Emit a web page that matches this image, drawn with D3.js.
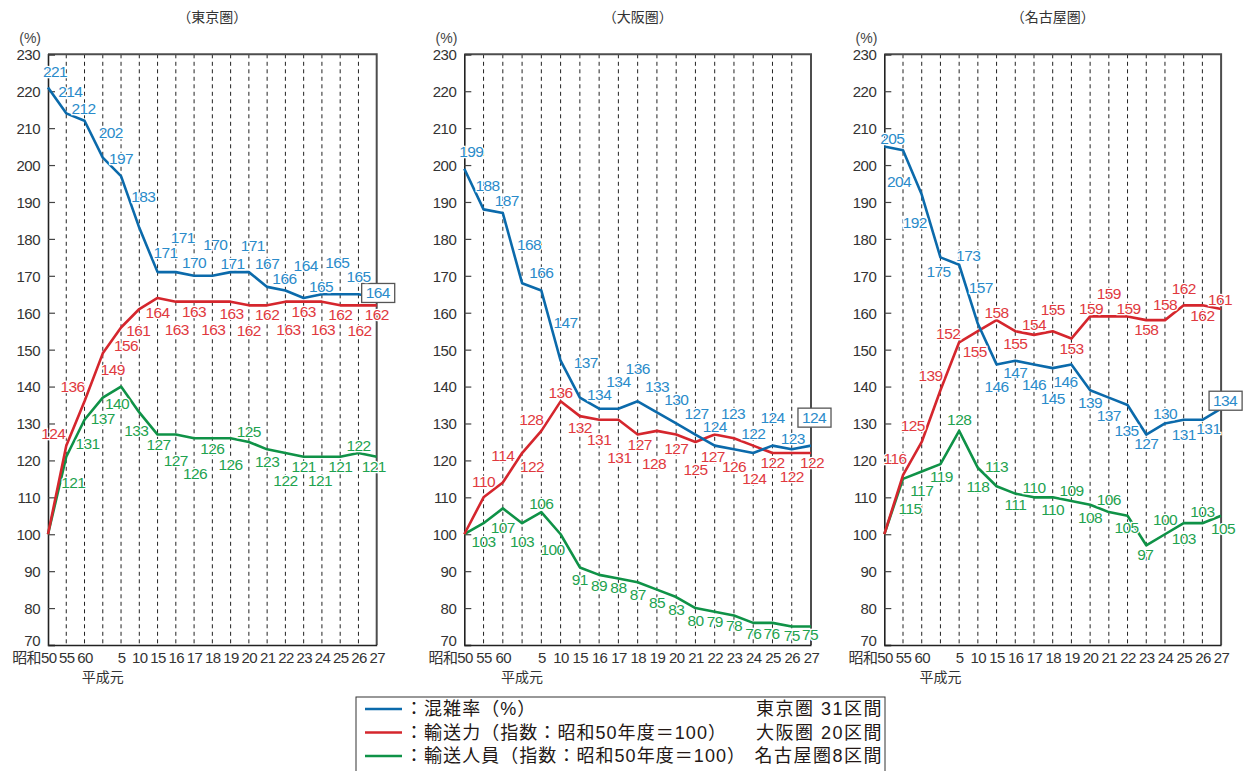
<!DOCTYPE html>
<html>
<head>
<meta charset="utf-8">
<script src="https://cdn.jsdelivr.net/npm/d3@7"></script>
<style>
body { margin: 0; background: #fff; }
svg text { font-family: "Liberation Sans", "Noto Sans CJK JP", sans-serif; }
</style>
</head>
<body>
<script>
// x categories (昭和50 … 平成27)
const years = ["昭和50", "55", "60", "平成元", "5", "10", "15", "16", "17", "18",
               "19", "20", "21", "22", "23", "24", "25", "26", "27"];
const yTicks = [70, 80, 90, 100, 110, 120, 130, 140, 150, 160, 170, 180, 190, 200, 210, 220, 230];

// 東京圏
const tokyoCongestion = [221, 214, 212, 202, 197, 183, 171, 171, 170, 170, 171, 171, 167, 166, 164, 165, 165, 165, 164];
const tokyoCapacity   = [100, 124, 136, 149, 156, 161, 164, 163, 163, 163, 163, 162, 162, 163, 163, 163, 162, 162, 162];
const tokyoPassengers = [100, 121, 131, 137, 140, 133, 127, 127, 126, 126, 126, 125, 123, 122, 121, 121, 121, 122, 121];

// 大阪圏
const osakaCongestion = [199, 188, 187, 168, 166, 147, 137, 134, 134, 136, 133, 130, 127, 124, 123, 122, 124, 123, 124];
const osakaCapacity   = [100, 110, 114, 122, 128, 136, 132, 131, 131, 127, 128, 127, 125, 127, 126, 124, 122, 122, 122];
const osakaPassengers = [100, 103, 107, 103, 106, 100, 91, 89, 88, 87, 85, 83, 80, 79, 78, 76, 76, 75, 75];

// 名古屋圏
const nagoyaCongestion = [205, 204, 192, 175, 173, 157, 146, 147, 146, 145, 146, 139, 137, 135, 127, 130, 131, 131, 134];
const nagoyaCapacity   = [100, 116, 125, 139, 152, 155, 158, 155, 154, 155, 153, 159, 159, 159, 158, 158, 162, 162, 161];
const nagoyaPassengers = [100, 115, 117, 119, 128, 118, 113, 111, 110, 110, 109, 108, 106, 105, 97, 100, 103, 103, 105];

// label placement relative to each point (px), null = no label
const tokyoCongestionOff = [[7,-16],[4,-22],[-1,-12],[8,-25],[0,-18],[4,-31],[8,-20],[7,-35],[0,-13],[3,-31],[2,-9],[4,-27],[0,-23],[-1,-12],[2,-32],[-1,-8],[-3,-32],[0,-18],[1,-5]];
const tokyoCapacityOff = [null,[-13,-12],[-12,-15],[10,16],[5,18],[-1,21],[0,15],[1,28],[0,10],[1,28],[1,12],[0,25],[0,9],[3,28],[0,10],[1,28],[0,9],[1,25],[0,9]];
const tokyoPassengersOff = [null,[7,26],[3,24],[0,21],[-4,17],[-3,18],[1,10],[0,26],[1,35],[0,10],[0,26],[0,-10],[0,12],[0,27],[0,10],[-2,24],[0,10],[0,-8],[-3,10]];
const osakaCongestionOff = [[7,-17],[4,-24],[4,-13],[7,-39],[0,-18],[5,-38],[6,-35],[0,-14],[0,-27],[0,-33],[0,-26],[0,-24],[1,-21],[0,-19],[-1,-36],[0,-20],[0,-28],[1,-11],[3,-28]];
const osakaCapacityOff = [null,[0,-16],[0,-27],[10,13],[-10,-11],[0,-9],[0,11],[0,20],[1,38],[2,10],[-3,33],[0,14],[0,28],[-2,22],[0,28],[1,33],[0,9],[0,23],[1,9]];
const osakaPassengersOff = [null,[0,18],[0,19],[0,18],[0,-9],[-8,15],[0,12],[0,11],[0,9],[0,12],[0,13],[0,12],[0,12],[0,10],[0,10],[0,11],[-1,11],[0,9],[-1,8]];
const nagoyaCongestionOff = [[8,-8],[-4,31],[-7,28],[-2,14],[9,-9],[3,-36],[0,22],[0,12],[0,20],[0,30],[-6,17],[0,12],[0,18],[-1,25],[0,9],[0,-10],[0,15],[6,9],[4,-8]];
const nagoyaCapacityOff = [null,[-8,-17],[-9,-16],[-10,-15],[-11,-9],[-3,20],[0,-8],[0,12],[0,-10],[0,-22],[0,10],[1,-8],[0,-23],[1,-8],[0,9],[0,-16],[0,-17],[0,10],[-1,-10]];
const nagoyaPassengersOff = [null,[7,30],[0,19],[1,12],[0,-11],[0,19],[0,-20],[0,11],[0,-10],[0,12],[0,-11],[0,13],[0,-13],[-1,12],[-1,9],[0,-15],[0,15],[0,-12],[2,13]];

const legendNames = ["：混雑率（%）", "：輸送力（指数：昭和50年度＝100）", "：輸送人員（指数：昭和50年度＝100）"];
const legendNotes = ["東京圏  31区間", "大阪圏  20区間", "名古屋圏8区間"];

const lineColors  = ["#0b6aab", "#d5262d", "#0f9247"];
const labelColors = ["#2a8bca", "#e0393e", "#1ea24f"];

const svgWidth = 1247, svgHeight = 771;
const plotTop = 54.3, plotBottom = 645;

const svg = d3.select("body").append("svg")
    .attr("width", svgWidth)
    .attr("height", svgHeight);

const y = d3.scaleLinear().domain([70, 230]).range([plotBottom, plotTop]);

const panels = [
    {title: "（東京圏）", left: 48, right: 376.7,
     series: [[tokyoPassengers, tokyoPassengersOff], [tokyoCapacity, tokyoCapacityOff], [tokyoCongestion, tokyoCongestionOff]]},
    {title: "（大阪圏）", left: 464.3, right: 811,
     series: [[osakaPassengers, osakaPassengersOff], [osakaCapacity, osakaCapacityOff], [osakaCongestion, osakaCongestionOff]]},
    {title: "（名古屋圏）", left: 884.3, right: 1221.1,
     series: [[nagoyaPassengers, nagoyaPassengersOff], [nagoyaCapacity, nagoyaCapacityOff], [nagoyaCongestion, nagoyaCongestionOff]]}
];

panels.forEach(draw_panel);
draw_legend();

function draw_panel(p) {
    const x = d3.scalePoint().domain(years).range([p.left, p.right]);
    const g = svg.append("g");

    g.append("text")
        .attr("x", (p.left + p.right) / 2).attr("y", 17)
        .attr("text-anchor", "middle").attr("dominant-baseline", "central")
        .style("font-size", "14px").attr("fill", "#333")
        .text(p.title);

    g.append("text")
        .attr("x", p.left - 7).attr("y", 38)
        .attr("text-anchor", "end").attr("dominant-baseline", "central")
        .style("font-size", "14px").attr("fill", "#444")
        .text("(%)");

    // dashed verticals
    g.append("g").selectAll("line")
        .data(years.slice(1, -1))
        .join("line")
        .attr("x1", d => x(d)).attr("x2", d => x(d))
        .attr("y1", plotTop).attr("y2", plotBottom)
        .attr("stroke", "#222").attr("stroke-width", 1)
        .attr("stroke-dasharray", "4,3.5");

    // frame top / right
    g.append("path")
        .attr("d", `M${p.left},${plotTop}H${p.right}V${plotBottom}`)
        .attr("fill", "none").attr("stroke", "#4d4d4d").attr("stroke-width", 2);

    const yAxis = g.append("g")
        .attr("transform", `translate(${p.left},0)`)
        .call(d3.axisLeft(y).tickValues(yTicks).tickSize(-7).tickPadding(8));
    yAxis.select(".domain").attr("stroke", "#222").attr("stroke-width", 1.6);
    yAxis.selectAll(".tick line").attr("stroke", "#444").attr("stroke-width", 1.2);
    yAxis.selectAll(".tick text")
        .style("font-size", "15px").style("letter-spacing", "-0.5px")
        .attr("fill", "#333")
        .attr("dy", d => d === 70 ? "0.05em" : "0.36em");

    const xAxis = g.append("g")
        .attr("transform", `translate(0,${plotBottom})`)
        .call(d3.axisBottom(x).tickSize(0).tickPadding(7)
            .tickFormat(d => d === "平成元" ? "" : d));
    xAxis.select(".domain").attr("stroke", "#222").attr("stroke-width", 1.6);
    xAxis.selectAll(".tick text")
        .style("font-size", "15px").style("letter-spacing", "-0.6px")
        .attr("fill", "#333")
        .attr("text-anchor", d => d === "昭和50" ? "end" : "middle")
        .attr("dx", d => d === "昭和50" ? 8 : 0);
    g.append("text")
        .attr("x", x("平成元")).attr("y", 677)
        .attr("text-anchor", "middle").attr("dominant-baseline", "central")
        .style("font-size", "14px").attr("fill", "#333")
        .text("平成元");

    const line = d3.line()
        .x((d, i) => x(years[i]))
        .y(d => y(d));

    p.series.forEach(([values, offs], k) => {
        const c = 2 - k;
        g.append("path")
            .datum(values)
            .attr("d", line)
            .attr("fill", "none")
            .attr("stroke", lineColors[c])
            .attr("stroke-width", 2.6)
            .attr("stroke-linejoin", "round");
    });

    p.series.forEach(([values, offs], k) => {
        const c = 2 - k;
        const pts = values.map((v, i) => ({v, i, off: offs[i]})).filter(d => d.off);
        const labels = g.append("g").selectAll("text")
            .data(pts)
            .join("text")
            .attr("x", d => x(years[d.i]) + d.off[0])
            .attr("y", d => y(d.v) + d.off[1])
            .attr("text-anchor", "middle")
            .attr("dominant-baseline", "central")
            .style("font-size", "15.5px").style("letter-spacing", "-0.6px")
            .attr("fill", labelColors[c])
            .attr("stroke", "#fff").attr("stroke-width", 2.5)
            .attr("paint-order", "stroke")
            .text(d => d.v);

        // boxed latest congestion value
        if (c === 0) {
            const last = labels.filter(d => d.i === years.length - 1);
            const bb = last.node().getBBox();
            g.insert("rect", () => last.node().parentNode)
                .attr("x", bb.x - 4).attr("y", bb.y - 1)
                .attr("width", bb.width + 8).attr("height", bb.height + 2)
                .attr("fill", "#fff").attr("stroke", "#555").attr("stroke-width", 1.3);
        }
    });
}

function draw_legend() {
    const g = svg.append("g");
    g.append("rect")
        .attr("x", 356).attr("y", 697)
        .attr("width", 529).attr("height", 90)
        .attr("fill", "#fff").attr("stroke", "#333").attr("stroke-width", 1);

    const rowY = d3.scalePoint().domain(d3.range(3)).range([709, 756]);

    g.selectAll("line.leg")
        .data(lineColors)
        .join("line")
        .attr("x1", 365).attr("x2", 402)
        .attr("y1", (d, i) => rowY(i)).attr("y2", (d, i) => rowY(i))
        .attr("stroke", d => d).attr("stroke-width", 2.4);

    g.selectAll("text.name")
        .data(legendNames)
        .join("text")
        .attr("x", 405).attr("y", (d, i) => rowY(i))
        .attr("dominant-baseline", "central")
        .style("font-size", "18px").style("letter-spacing", "1.05px")
        .attr("fill", "#231815")
        .text(d => d);

    g.selectAll("text.note")
        .data(legendNotes)
        .join("text")
        .attr("x", 883).attr("y", (d, i) => rowY(i))
        .attr("text-anchor", "end")
        .attr("dominant-baseline", "central")
        .style("font-size", "18px").style("letter-spacing", "1.5px")
        .attr("fill", "#231815")
        .text(d => d);
}
</script>
</body>
</html>
